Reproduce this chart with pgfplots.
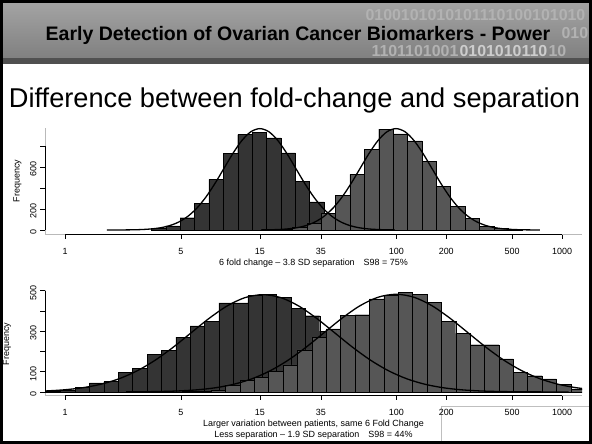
\documentclass[border=0pt]{standalone}
\usepackage{pgfplots}
\pgfplotsset{compat=1.18}
\usepackage{fontspec}
\setmainfont{Liberation Sans}
\definecolor{darkbar}{RGB}{52,52,52}
\definecolor{lightbar}{RGB}{86,86,86}
\definecolor{hdrtop}{RGB}{165,165,165}
\definecolor{hdrbot}{RGB}{128,128,128}
\definecolor{hdrband}{RGB}{80,80,80}
\definecolor{digit}{RGB}{178,178,178}
\definecolor{digitb}{RGB}{205,205,205}
\pgfplotsset{hist/.style={
  scale only axis, width=537bp,
  xmin=-0.278, xmax=7.185,
  axis line style={gray!55, line width=0.6bp},
  tick align=outside, major tick length=5bp,
  tick style={black, line width=0.6bp},
  xtick={0,1.6094,2.7081,3.5553,4.6052,5.2983,6.2146,6.9078},
  xticklabels={1,5,15,35,100,200,500,1000},
  ticklabel style={font=\fontsize{9}{10}\selectfont},
  xticklabel style={yshift=-6bp},
  yticklabel style={rotate=90, anchor=south, xshift=-2bp},
  clip mode=individual,
  axis x line*=bottom, axis y line*=left,
}}
\begin{document}
\begin{tikzpicture}[x=1bp,y=1bp]
\path[use as bounding box] (0,0) rectangle (592,444);
\fill[white] (0,0) rectangle (592,444);
% header
\shade[top color=hdrtop, bottom color=hdrbot] (0,386) rectangle (592,444);
\fill[hdrband] (0,380) rectangle (592,386);
\begin{scope}
\clip (0,386) rectangle (592,444);
\node[anchor=west, text=digit, font=\fontsize{16}{16}\selectfont\bfseries] at (362,429) {0100101010101110100101010};
\node[anchor=west, text=digit, font=\fontsize{16}{16}\selectfont\bfseries] at (558,411) {010};
\node[anchor=west, text=digit, font=\fontsize{16}{16}\selectfont\bfseries] at (368,393) {1101101001};
\node[anchor=west, text=digitb, font=\fontsize{16}{16}\selectfont\bfseries] at (456,393) {0101010110};
\node[anchor=west, text=digit, font=\fontsize{16}{16}\selectfont\bfseries] at (545,393) {10};
\end{scope}
\node[font=\fontsize{19.6}{22}\selectfont\bfseries, text=black] at (298,409) {Early Detection of Ovarian Cancer Biomarkers - Power};
\node[font=\fontsize{27.3}{30}\selectfont] at (294.5,344) {Difference between fold-change and separation};

% white box bottom right
\draw[gray!50, line width=0.6bp, fill=white] (441,-2) rectangle (596,38);

% ---------- top histogram ----------
\begin{axis}[hist, at={(45bp,210bp)}, anchor=south west, height=106bp,
  ymin=-38, ymax=971,
  ytick={0,200,400,600,800}, yticklabels={0,200,,600,}]
\addplot[ybar interval, fill=darkbar, draw=black, line width=0.4bp] coordinates {
(1.2,15) (1.4,40) (1.6,117) (1.8,254) (2.0,483) (2.2,730) (2.4,908) (2.6,927)
(2.8,876) (3.0,734) (3.2,463) (3.4,267) (3.6,130) (3.8,55) (4.0,20) (4.2,6) (4.4,0)};
\addplot[ybar interval, fill=lightbar, draw=black, line width=0.4bp] coordinates {
(2.96,4) (3.16,22) (3.36,68) (3.56,159) (3.76,333) (3.96,530) (4.16,768) (4.36,959)
(4.56,914) (4.76,848) (4.96,651) (5.16,413) (5.36,222) (5.56,108) (5.76,38)
(5.96,14) (6.16,5) (6.36,0)};
\addplot[black, line width=1.3bp, smooth] coordinates {
(0.583,0.1) (0.708,0.3) (0.833,0.85) (0.958,2.1) (1.083,4.9) (1.208,10.7) (1.333,22.0)
(1.458,42.4) (1.583,76.8) (1.708,130.6) (1.833,208.7) (1.958,313.3) (2.083,441.8)
(2.208,585.3) (2.333,728.4) (2.458,851.6) (2.583,935.3) (2.708,965) (2.833,935.3)
(2.958,851.6) (3.083,728.4) (3.208,585.3) (3.333,441.8) (3.458,313.3) (3.583,208.7)
(3.708,130.6) (3.833,76.8) (3.958,42.4) (4.083,22.0) (4.208,10.7) (4.333,4.9)
(4.458,2.1) (4.583,0.85)};
\addplot[black, line width=1.3bp, smooth] coordinates {
(2.725,0.85) (2.85,2.1) (2.975,4.9) (3.1,10.7) (3.225,22.0) (3.35,42.4) (3.475,76.8)
(3.6,130.6) (3.725,208.7) (3.85,313.3) (3.975,441.8) (4.1,585.3) (4.225,728.4)
(4.35,851.6) (4.475,935.3) (4.6,965) (4.725,935.3) (4.85,851.6) (4.975,728.4)
(5.1,585.3) (5.225,441.8) (5.35,313.3) (5.475,208.7) (5.6,130.6) (5.725,76.8)
(5.85,42.4) (5.975,22.0) (6.1,10.7) (6.225,4.9) (6.35,2.1) (6.475,0.85) (6.6,0.3)};
\draw[black, line width=0.6bp] (axis cs:0,-38) -- (axis cs:6.9078,-38);
\draw[black, line width=0.6bp] (axis cs:-0.278,0) -- (axis cs:-0.278,800);
\end{axis}
\node[rotate=90, font=\fontsize{9}{10}\selectfont] at (17.5,263) {Frequency};
\node[font=\fontsize{9}{10}\selectfont] at (313.5,181) {6 fold change – 3.8 SD separation\hspace{1em}S98 = 75\%};

% ---------- bottom histogram ----------
\begin{axis}[hist, at={(45bp,49bp)}, anchor=south west, height=105bp,
  ymin=-15, ymax=503,
  ytick={0,100,200,300,400,500}, yticklabels={0,100,,300,,500}]
\addplot[ybar interval, fill=darkbar, draw=black, line width=0.4bp] coordinates {
(-0.46,2) (-0.26,4) (-0.06,8) (0.14,22) (0.34,45) (0.54,51) (0.74,96) (0.94,115)
(1.14,187) (1.34,205) (1.54,271) (1.74,326) (1.94,347) (2.14,439) (2.34,440)
(2.54,475) (2.74,481) (2.94,467) (3.14,411) (3.34,376) (3.54,300) (3.74,235)
(3.94,170) (4.14,110) (4.34,70) (4.54,42) (4.74,24) (4.94,12) (5.14,6) (5.34,3) (5.54,0)};
\addplot[ybar interval, fill=lightbar, draw=black, line width=0.4bp] coordinates {
(1.63,2) (1.83,4) (2.03,8) (2.23,35) (2.43,56) (2.63,72) (2.83,102) (3.03,133)
(3.23,207) (3.43,270) (3.63,311) (3.83,378) (4.03,381) (4.23,459) (4.43,475)
(4.63,492) (4.83,483) (5.03,442) (5.23,349) (5.43,289) (5.63,233) (5.83,233)
(6.03,163) (6.23,97) (6.43,80) (6.63,64) (6.83,39) (7.03,15) (7.23,0)};
\addplot[black, line width=1.3bp, smooth] coordinates {
(-0.5,2.4) (-0.25,5.3) (0.0,10.9) (0.25,21.1) (0.5,38.2) (0.75,64.9) (1.0,103.8)
(1.25,155.9) (1.5,219.7) (1.75,291.1) (2.0,362.3) (2.25,423.6) (2.5,465.2) (2.75,480)
(3.0,465.2) (3.25,423.6) (3.5,362.3) (3.75,291.1) (4.0,219.7) (4.25,155.9) (4.5,103.8)
(4.75,64.9) (5.0,38.2) (5.25,21.1) (5.5,10.9) (5.75,5.3) (6.0,2.4) (6.25,1.06)
(6.5,0.42) (6.75,0.16) (7.0,0.06)};
\addplot[black, line width=1.3bp, smooth] coordinates {
(0.85,0.42) (1.1,1.06) (1.35,2.5) (1.6,5.4) (1.85,11.0) (2.1,21.2) (2.35,38.4)
(2.6,65.2) (2.85,104.3) (3.1,156.5) (3.35,220.7) (3.6,292.3) (3.85,363.8) (4.1,425.4)
(4.35,467.2) (4.6,482) (4.85,467.2) (5.1,425.4) (5.35,363.8) (5.6,292.3) (5.85,220.7)
(6.1,156.5) (6.35,104.3) (6.6,65.2) (6.85,38.4) (7.1,21.2) (7.35,11.0)};
\draw[black, line width=0.6bp] (axis cs:0,-15) -- (axis cs:6.9078,-15);
\draw[black, line width=0.6bp] (axis cs:-0.278,0) -- (axis cs:-0.278,500);
\end{axis}
\node[rotate=90, font=\fontsize{9}{10}\selectfont] at (7,100) {Frequency};
\node[font=\fontsize{9}{10}\selectfont] at (313.5,20) {Larger variation between patients, same 6 Fold Change};
\node[font=\fontsize{9}{10}\selectfont] at (313.5,9) {Less separation – 1.9 SD separation\hspace{1em}S98 = 44\%};

% frame
\draw[black, line width=3bp] (1.5,1.5) rectangle (590.5,442.5);
\end{tikzpicture}
\end{document}
